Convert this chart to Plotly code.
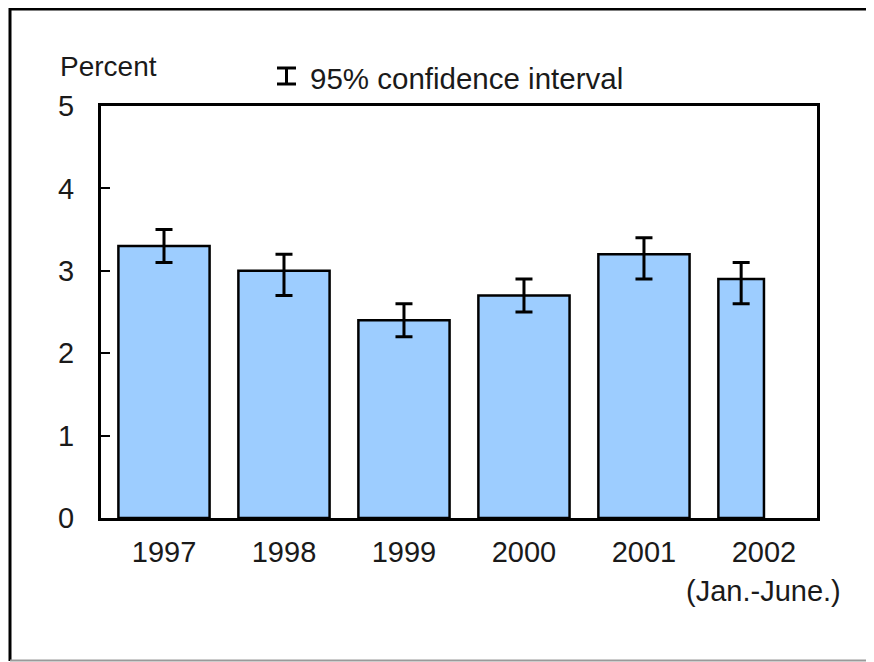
import plotly.graph_objects as go

# ---- data ----
years = ["1997", "1998", "1999", "2000", "2001", "2002"]
months_covered = [12, 12, 12, 12, 12, 6]
percent = [3.3, 3.0, 2.4, 2.7, 3.2, 2.9]
ci_low = [3.1, 2.7, 2.2, 2.5, 2.9, 2.6]
ci_high = [3.5, 3.2, 2.6, 2.9, 3.4, 3.1]
y_ticks = [0, 1, 2, 3, 4, 5]
period_note = "(Jan.-June.)"

# ---- layout geometry (screen pixels; page body has an 8px margin) ----
PAGE_OFF = 8
W, H = 874 - PAGE_OFF, 662 - PAGE_OFF
L, R, T, B = 101, 817, 106, 518           # plot area on screen
FONT = "Arial, Liberation Sans, sans-serif"
TXT = "#1a1a1a"
FS = 29


def px_x(p):
    return (p - L) / (R - L)


def px_y(p):
    return (B - p) / (B - T)


full_w = 0.76
widths = [full_w * m / 12 for m in months_covered]
offsets = [-full_w / 2] * len(years)

fig = go.Figure()
fig.add_trace(go.Bar(
    x=years, y=percent,
    width=widths, offset=offsets,
    marker=dict(color="#9DCDFF", line=dict(color="black", width=2.5)),
    error_y=dict(type="data", symmetric=False,
                 array=[h - v for h, v in zip(ci_high, percent)],
                 arrayminus=[v - l for v, l in zip(percent, ci_low)],
                 color="black", thickness=3, width=8.5),
    showlegend=False,
))

shapes = [
    # outer frame
    dict(type="line", xref="paper", yref="paper", x0=px_x(10), x1=px_x(10), y0=px_y(8), y1=px_y(661),
         line=dict(color="black", width=3)),
    dict(type="line", xref="paper", yref="paper", x0=px_x(9), x1=px_x(890), y0=px_y(9), y1=px_y(9),
         line=dict(color="black", width=3)),
    dict(type="line", xref="paper", yref="paper", x0=px_x(10), x1=px_x(890), y0=px_y(660.5), y1=px_y(660.5),
         line=dict(color="#9a9a9a", width=2)),
    # legend glyph (error bar symbol)
    dict(type="line", xref="paper", yref="paper", x0=px_x(286.5), x1=px_x(286.5), y0=px_y(68), y1=px_y(84),
         line=dict(color="black", width=3)),
    dict(type="line", xref="paper", yref="paper", x0=px_x(277), x1=px_x(296), y0=px_y(68), y1=px_y(68),
         line=dict(color="black", width=3)),
    dict(type="line", xref="paper", yref="paper", x0=px_x(277), x1=px_x(296), y0=px_y(84), y1=px_y(84),
         line=dict(color="black", width=3)),
]

annotations = [
    dict(text="Percent", xref="paper", yref="paper", x=px_x(58), y=px_y(66),
         xanchor="left", yanchor="middle", showarrow=False, font=dict(family=FONT, size=28, color=TXT)),
    dict(text="95% confidence interval", xref="paper", yref="paper", x=px_x(308), y=px_y(79),
         xanchor="left", yanchor="middle", showarrow=False, font=dict(family=FONT, size=29.5, color=TXT)),
    dict(text=period_note, xref="x", yref="paper", x=len(years) - 1, y=px_y(591),
         xanchor="center", yanchor="middle", showarrow=False, font=dict(family=FONT, size=FS, color=TXT)),
]

fig.update_layout(
    width=W, height=H,
    margin=dict(l=L - PAGE_OFF, r=W + PAGE_OFF - R, t=T - PAGE_OFF, b=H + PAGE_OFF - B, pad=0),
    paper_bgcolor="white", plot_bgcolor="white",
    font=dict(family=FONT, size=FS, color=TXT),
    shapes=shapes, annotations=annotations,
)
fig.update_xaxes(
    type="category", range=[-0.525, 5.442],
    showline=True, linecolor="black", linewidth=3, mirror=True,
    ticks="", showgrid=False, ticklabelstandoff=6,
    tickfont=dict(family=FONT, size=FS, color=TXT),
)
fig.update_yaxes(
    range=[0, 5], tickvals=y_ticks,
    showline=True, linecolor="black", linewidth=3, mirror=True,
    ticks="inside", ticklen=9, tickwidth=2, tickcolor="black",
    showgrid=False, zeroline=False, ticklabelstandoff=18,
    tickfont=dict(family=FONT, size=FS, color=TXT),
)

fig.write_html("out.html")
